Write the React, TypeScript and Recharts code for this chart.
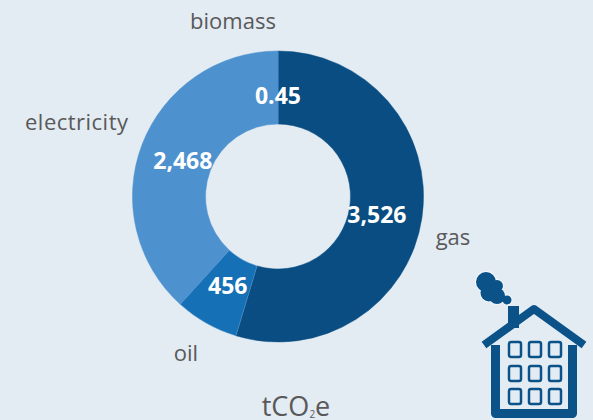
import { PieChart, Pie, Cell } from "recharts";

const fuels = ["gas", "oil", "electricity", "biomass"];
const emissions = [3526, 456, 2468, 0.45];
const valueLabels = ["3,526", "456", "2,468", "0.45"];
const fuelColors = ["#094d82", "#1670b6", "#4d91cf", "#4d91cf"];
const fuelEdges = ["#094d82", "#5f9bd0", "#4d91cf", "#4d91cf"];

const chartData = fuels.map((fuel, i) => ({ fuel, value: emissions[i], text: valueLabels[i] }));

const bg = "#e3ebf3";
const navy = "#0b5288";
const font = "'Open Sans', sans-serif";
const RAD = Math.PI / 180;

// white figures sit a little inside the ring's mid radius
function renderValue(props: any) {
  const r = 102;
  const isGas = props.payload.fuel === "gas";
  const x = props.cx + r * Math.cos(-props.midAngle * RAD) - (isGas ? 2 : 0);
  const y = props.cy + r * Math.sin(-props.midAngle * RAD) + (isGas ? 3 : 0);
  return (
    <text
      x={x}
      y={y}
      textAnchor="middle"
      dominantBaseline="central"
      fill="#ffffff"
      fontSize={23}
      fontWeight={700}
      fontFamily={font}
    >
      {props.payload.text}
    </text>
  );
}

function HouseIcon() {
  const cols = [508, 528, 548];
  const rows = [341, 365, 388];
  const smoke = [
    [486, 282, 10],
    [497, 286, 6],
    [489, 293, 8.5],
    [497, 296, 8],
    [507, 300, 4.5],
  ];
  return (
    <g>
      {smoke.map(([x, y, r], i) => (
        <circle key={i} cx={x} cy={y} r={r + 1} fill="#f4f8fb" />
      ))}
      {smoke.map(([x, y, r], i) => (
        <circle key={i} cx={x} cy={y} r={r} fill={navy} />
      ))}
      <rect x={508} y={306} width={11} height={22} fill={navy} />
      <path d="M495.5 345 V413.5 H572.5 V345" fill="none" stroke={navy} strokeWidth={9} strokeLinejoin="round" />
      <path d="M484 345 L534 309 L584 345" fill="none" stroke={navy} strokeWidth={8} strokeLinejoin="round" />
      {rows.map((y) =>
        cols.map((x) => (
          <rect
            key={`${x}-${y}`}
            x={x + 1}
            y={y + 1}
            width={12}
            height={15}
            rx={2}
            fill="none"
            stroke={navy}
            strokeWidth={2.5}
          />
        ))
      )}
    </g>
  );
}

export default function App() {
  const labelStyle = { fontFamily: font, fontSize: 22, fill: "#595959" };
  return (
    <div style={{ position: "fixed", left: 0, top: 0, width: 593, height: 420, background: bg, overflow: "hidden" }}>
      <div style={{ position: "absolute", left: 0, top: 0 }}>
        <PieChart width={593} height={420} margin={{ top: 0, right: 0, bottom: 0, left: 0 }}>
          <Pie
            data={chartData}
            dataKey="value"
            nameKey="fuel"
            cx={278}
            cy={196.5}
            innerRadius={72.5}
            outerRadius={145.5}
            startAngle={90}
            endAngle={-270}
            strokeWidth={0.5}
            label={renderValue}
            labelLine={false}
            isAnimationActive={false}
          >
            {chartData.map((d, i) => (
              <Cell key={d.fuel} fill={fuelColors[i]} stroke={fuelEdges[i]} />
            ))}
          </Pie>
        </PieChart>
      </div>
      <svg width={593} height={420} style={{ position: "absolute", left: 0, top: 0 }}>
        <text x={233} y={29} textAnchor="middle" {...labelStyle}>{fuels[3]}</text>
        <text x={25} y={130} textLength={103} {...labelStyle}>{fuels[2]}</text>
        <text x={453} y={245} textAnchor="middle" {...labelStyle}>{fuels[0]}</text>
        <text x={186} y={361} textAnchor="middle" {...labelStyle}>{fuels[1]}</text>
        <text x={296} y={416} textAnchor="middle" fontFamily={font} fontSize={27} fill="#595959">
          tCO<tspan fontSize={10} dy={2}>2</tspan><tspan dy={-2}>e</tspan>
        </text>
        <HouseIcon />
      </svg>
    </div>
  );
}
